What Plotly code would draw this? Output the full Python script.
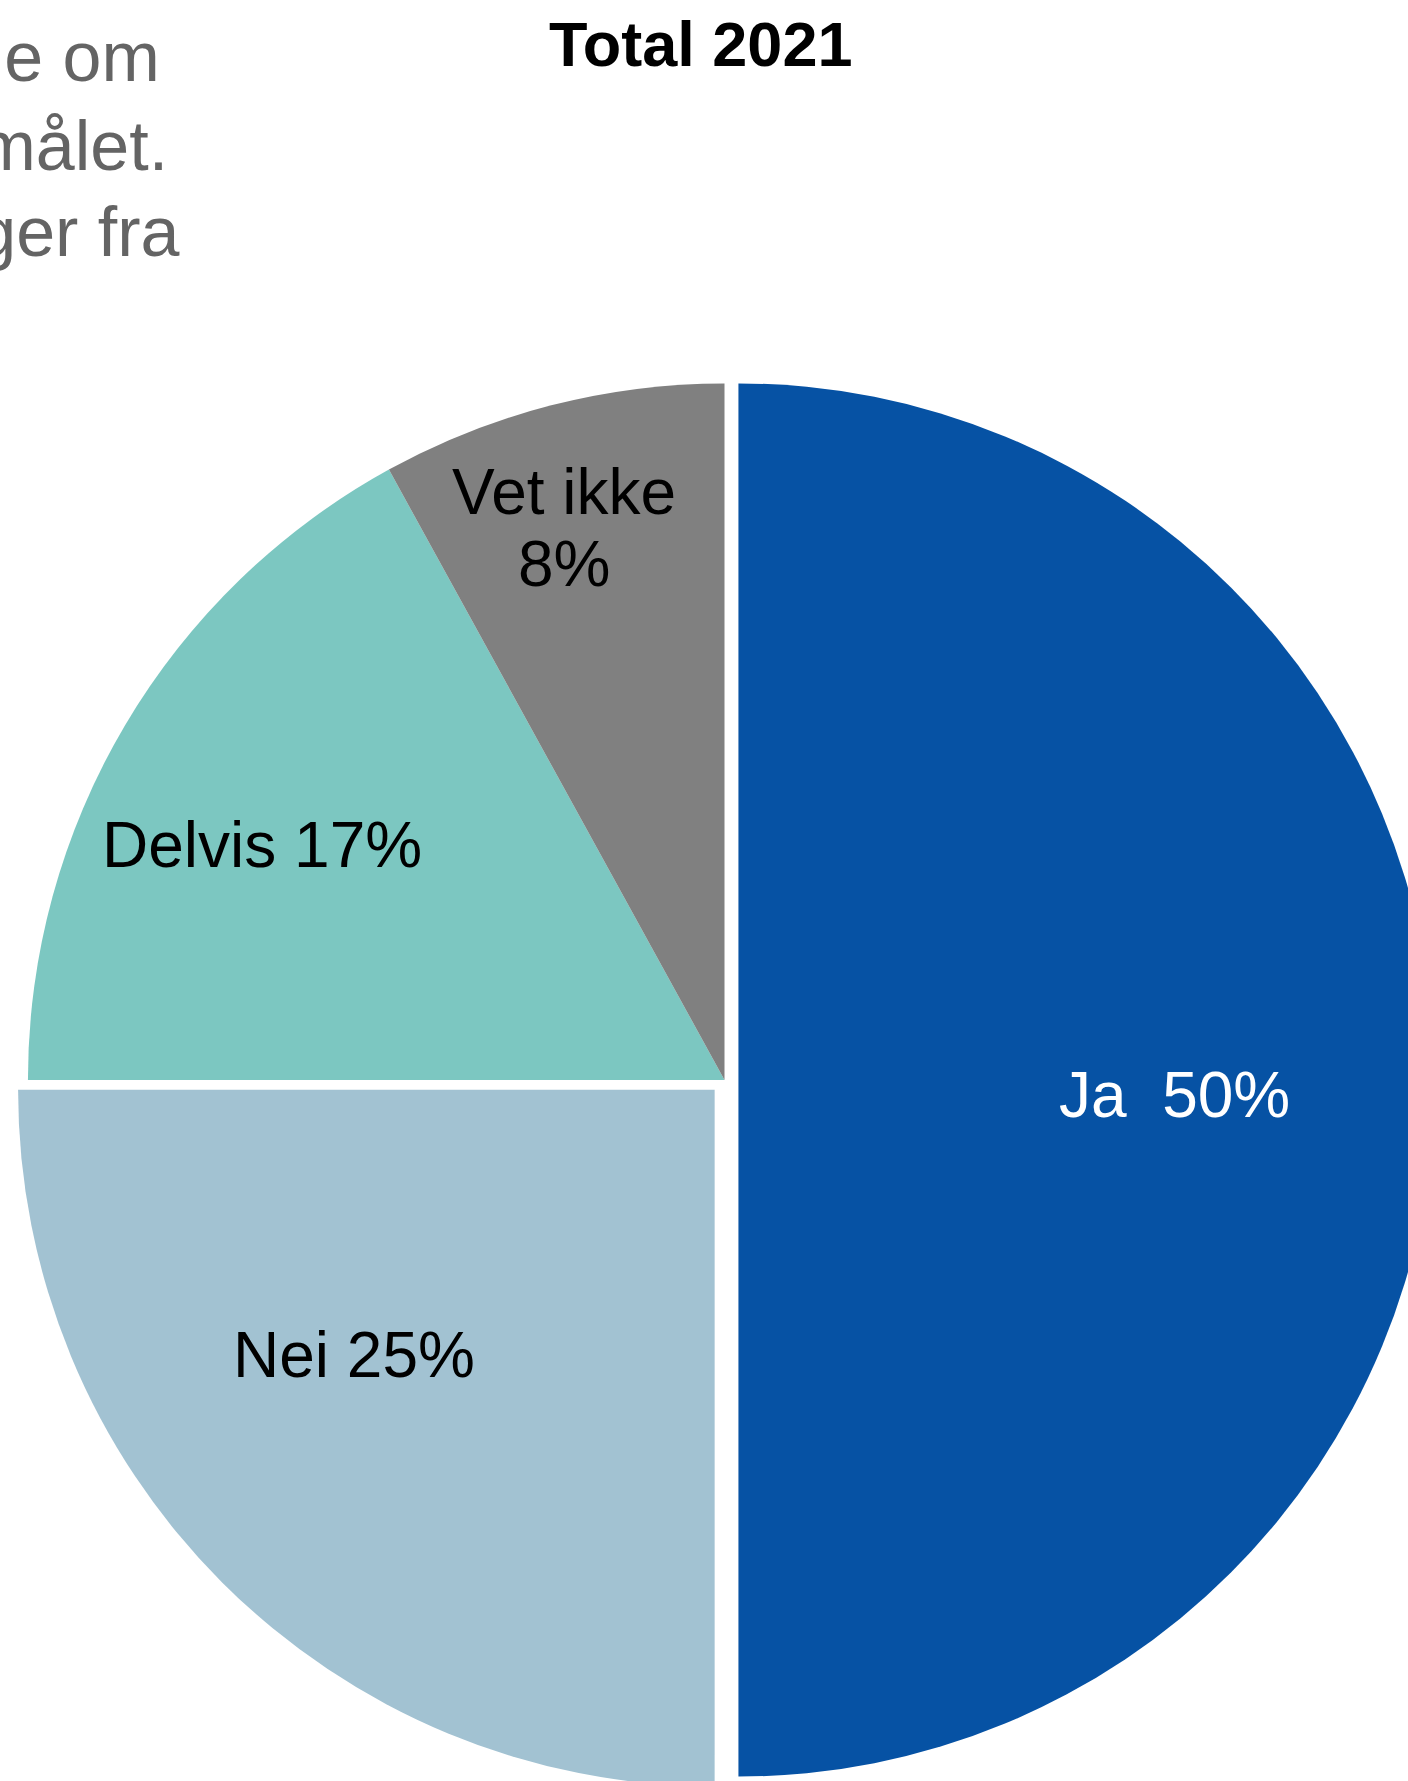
import plotly.graph_objects as go

# Survey answers, share of respondents (%)
labels = ["Ja", "Nei", "Delvis", "Vet ikke"]
values = [50, 25, 17, 8]
colors = ["#0652A4", "#A2C2D2", "#7CC7C1", "#808080"]
pulls = [0.02, 0.02, 0, 0]

title_text = "Total 2021"
side_lines = [
    "Figuren viser svarene om",
    "Andel som svarte ja på spørsmålet.",
    "Andelen i prosent. Svarfordelinger fra",
]

# Canvas geometry (pixels)
W, H = 1436, 1791
ML, MT = 13.5, 369
PW, PH = 1422, 1422
FONT = "Liberation Sans, Arial, sans-serif"
LABEL_SIZE = 64


def px(xp):
    return (xp - ML) / PW


def py(yp):
    return 1 - (yp - MT) / PH


fig = go.Figure(
    go.Pie(
        labels=labels,
        values=values,
        sort=False,
        direction="clockwise",
        rotation=0,
        pull=pulls,
        marker=dict(colors=colors, line=dict(width=0)),
        textinfo="none",
        hoverinfo="label+percent",
        domain=dict(x=[0, 1], y=[0, 1]),
    )
)

# Slice labels: (x, y) centre in pixels, text colour
label_pos = {
    "Ja": (1175, 1095, "white"),
    "Nei": (354, 1355, "black"),
    "Delvis": (262, 845, "black"),
}
annotations = []
for lab, val in zip(labels, values):
    if lab in label_pos:
        x, y, c = label_pos[lab]
        sep = "\u00a0\u00a0" if lab == "Ja" else " "
        annotations.append(dict(
            x=px(x), y=py(y), xref="paper", yref="paper",
            text=f"{lab}{sep}{val}%", showarrow=False,
            xanchor="center", yanchor="middle",
            font=dict(family=FONT, size=LABEL_SIZE, color=c),
        ))
    else:
        # two-line label in the small slice
        annotations.append(dict(
            x=px(564), y=py(492), xref="paper", yref="paper",
            text=lab, showarrow=False, xanchor="center", yanchor="middle",
            font=dict(family=FONT, size=LABEL_SIZE, color="black"),
        ))
        annotations.append(dict(
            x=px(564), y=py(564), xref="paper", yref="paper",
            text=f"{val}%", showarrow=False, xanchor="center", yanchor="middle",
            font=dict(family=FONT, size=LABEL_SIZE, color="black"),
        ))

# Running text to the left of the chart
for line, (xr, yc) in zip(side_lines, [(162, 57), (170, 146), (182, 232)]):
    annotations.append(dict(
        x=px(xr), y=py(yc), xref="paper", yref="paper",
        text=line, showarrow=False, xanchor="right", yanchor="middle",
        font=dict(family=FONT, size=70, color="#646464"),
    ))

# Chart title
annotations.append(dict(
    x=px(700), y=py(44), xref="paper", yref="paper",
    text=f"<b>{title_text}</b>", showarrow=False,
    xanchor="center", yanchor="middle",
    font=dict(family=FONT, size=63, color="black"),
))

fig.update_layout(
    width=W,
    height=H,
    margin=dict(l=ML, r=W - ML - PW, t=MT, b=H - MT - PH, pad=0, autoexpand=False),
    paper_bgcolor="white",
    plot_bgcolor="white",
    showlegend=False,
    annotations=annotations,
)

fig.write_html("out.html")
